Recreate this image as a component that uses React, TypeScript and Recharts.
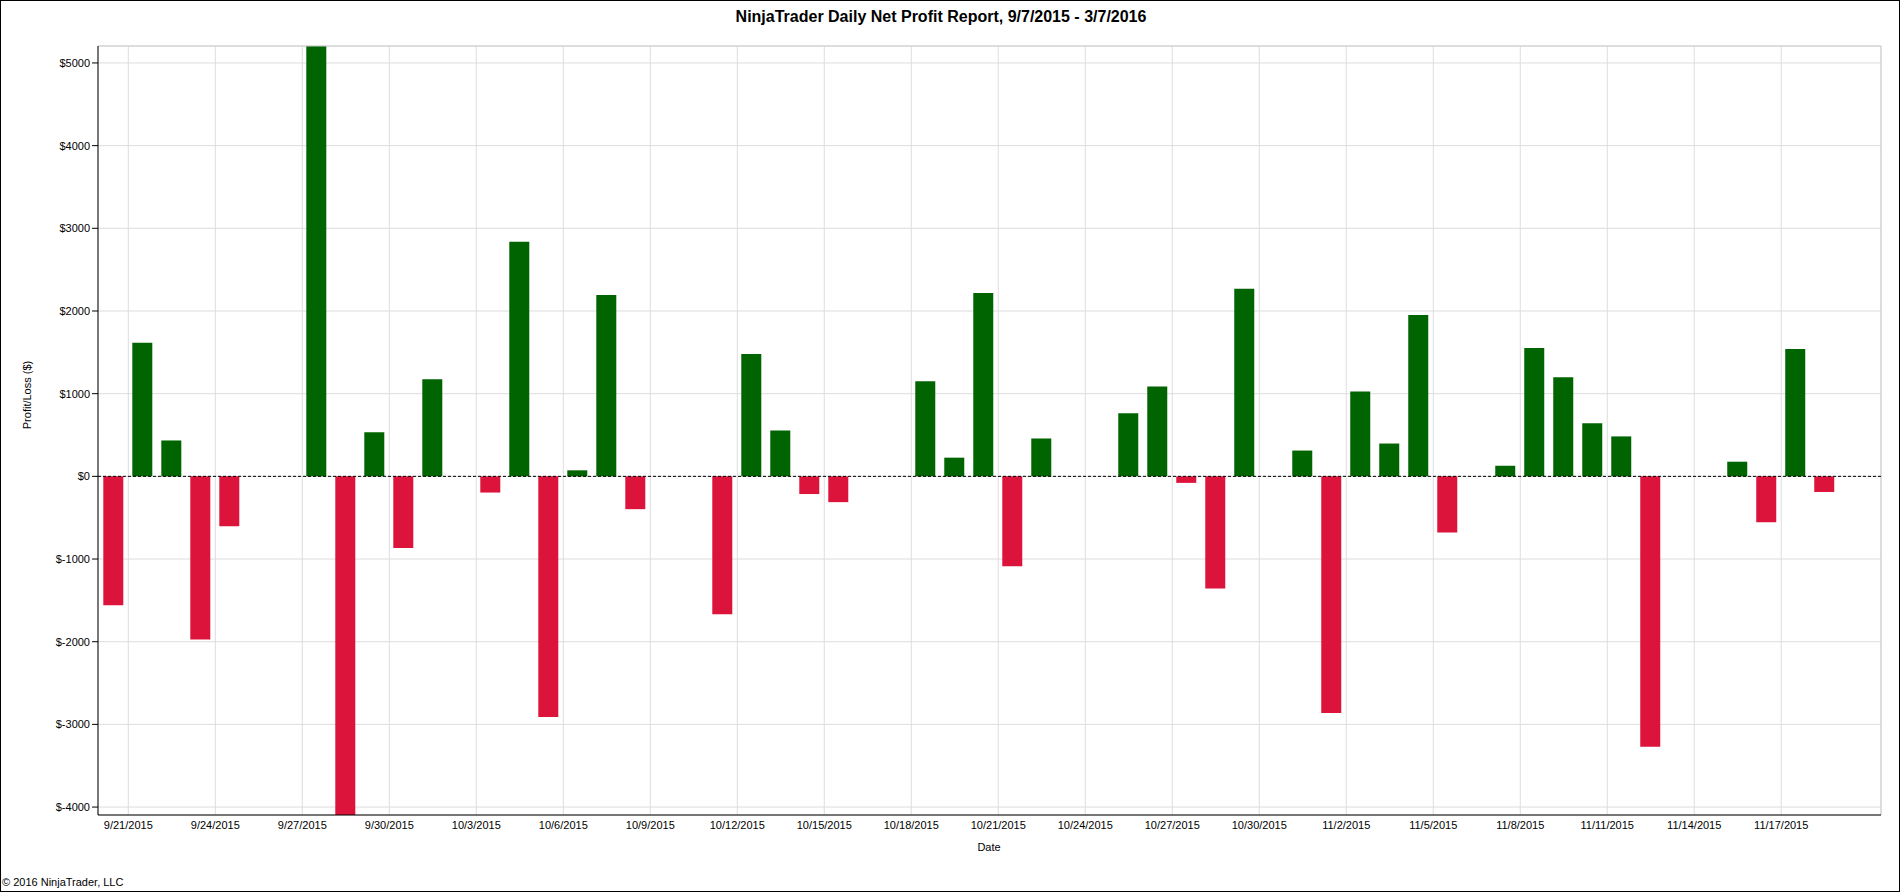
import React from 'react';
import { BarChart, Bar, XAxis, YAxis, CartesianGrid, ReferenceLine, Cell } from 'recharts';

const dates = [
  '9/20/2015', '9/21/2015', '9/22/2015', '9/23/2015', '9/24/2015',
  '9/27/2015', '9/28/2015', '9/29/2015', '9/30/2015', '10/1/2015',
  '10/3/2015', '10/4/2015', '10/5/2015', '10/6/2015', '10/7/2015', '10/8/2015',
  '10/11/2015', '10/12/2015', '10/13/2015', '10/14/2015', '10/15/2015',
  '10/18/2015', '10/19/2015', '10/20/2015', '10/21/2015', '10/22/2015',
  '10/25/2015', '10/26/2015', '10/27/2015', '10/28/2015', '10/29/2015',
  '10/31/2015', '11/1/2015', '11/2/2015', '11/3/2015', '11/4/2015', '11/5/2015',
  '11/7/2015', '11/8/2015', '11/9/2015', '11/10/2015', '11/11/2015', '11/12/2015',
  '11/15/2015', '11/16/2015', '11/17/2015', '11/18/2015',
];

const profits = [
  -1560, 1615, 434, -1974, -605,
  5205, -4096, 532, -868, 1174,
  -196, 2836, -2910, 73, 2194, -397,
  -1669, 1479, 556, -214, -312,
  1149, 226, 2219, -1088, 458,
  764, 1088, -79, -1357, 2268,
  312, -2861, 1027, 397, 1950, -678,
  128, 1553, 1198, 642, 483, -3270,
  177, -556, 1540, -189,
];

const yTicks = [-4000, -3000, -2000, -1000, 0, 1000, 2000, 3000, 4000, 5000];

const xTickDates = [
  '9/21/2015', '9/24/2015', '9/27/2015', '9/30/2015', '10/3/2015', '10/6/2015',
  '10/9/2015', '10/12/2015', '10/15/2015', '10/18/2015', '10/21/2015', '10/24/2015',
  '10/27/2015', '10/30/2015', '11/2/2015', '11/5/2015', '11/8/2015', '11/11/2015',
  '11/14/2015', '11/17/2015',
];

const GREEN = '#006400';
const RED = '#DC143C';
const DAY = 86400000;

const parseDate = (s: string) => {
  const [m, d, y] = s.split('/').map(Number);
  return Date.UTC(y, m - 1, d);
};
const fmtDate = (t: number) => {
  const d = new Date(t);
  return `${d.getUTCMonth() + 1}/${d.getUTCDate()}/${d.getUTCFullYear()}`;
};

const data = dates.map((d, i) => ({ t: parseDate(d) + DAY / 2, value: profits[i] }));
const xTicks = xTickDates.map(parseDate);
const origin = parseDate('9/21/2015');
const xDomain: [number, number] = [origin - 1.045 * DAY, origin + 60.44 * DAY];
const yMin = Math.min(...profits);
const yMax = Math.max(...profits);

const font = 'Arial, "Liberation Sans", sans-serif';

export default function App() {
  return (
    <div
      style={{
        position: 'absolute',
        left: 0,
        top: 0,
        width: 1900,
        height: 892,
        background: '#fff',
        fontFamily: font,
        color: '#000',
        overflow: 'hidden',
      }}
    >
      <div style={{ position: 'absolute', left: 0, top: 0 }}>
        <BarChart
          width={1900}
          height={892}
          data={data}
          margin={{ top: 46, right: 19, bottom: 47, left: 38 }}
          style={{ fontFamily: font }}
        >
          <CartesianGrid stroke="#dddddd" strokeWidth={1} />
          <XAxis
            dataKey="t"
            type="number"
            scale="linear"
            domain={xDomain}
            allowDataOverflow
            ticks={xTicks}
            interval={0}
            tickFormatter={fmtDate}
            tickLine={false}
            tickSize={4}
            axisLine={{ stroke: '#000', strokeWidth: 1 }}
            tick={{ fontSize: 11, fill: '#000', fontFamily: font }}
            height={30}
          />
          <YAxis
            type="number"
            domain={[yMin, yMax]}
            allowDataOverflow
            ticks={yTicks}
            interval={0}
            tickFormatter={(v: number) => `$${v}`}
            tickSize={6}
            tickMargin={2}
            tickLine={{ stroke: '#000' }}
            axisLine={{ stroke: '#000', strokeWidth: 1 }}
            tick={{ fontSize: 11, fill: '#000', fontFamily: font }}
            width={60}
          />
          <ReferenceLine y={yMax} stroke="#cccccc" ifOverflow="extendDomain" />
          <ReferenceLine x={xDomain[1]} stroke="#cccccc" ifOverflow="extendDomain" />
          <Bar dataKey="value" barSize={20} isAnimationActive={false}>
            {data.map((d, i) => (
              <Cell key={i} fill={d.value >= 0 ? GREEN : RED} />
            ))}
          </Bar>
          <ReferenceLine y={0} stroke="#000" strokeDasharray="3 2" />
        </BarChart>
      </div>
      <div
        style={{
          position: 'absolute',
          left: 0,
          top: 8,
          width: 1882,
          textAlign: 'center',
          fontSize: 16,
          fontWeight: 'bold',
          lineHeight: '18px',
        }}
      >
        NinjaTrader Daily Net Profit Report, 9/7/2015 - 3/7/2016
      </div>
      <div
        style={{
          position: 'absolute',
          left: 27,
          top: 395,
          transform: 'translate(-50%, -50%) rotate(-90deg)',
          fontSize: 11,
          whiteSpace: 'nowrap',
          lineHeight: '13px',
        }}
      >
        Profit/Loss ($)
      </div>
      <div
        style={{
          position: 'absolute',
          left: 889,
          width: 200,
          top: 841,
          textAlign: 'center',
          fontSize: 11,
          lineHeight: '13px',
        }}
      >
        Date
      </div>
      <div
        style={{
          position: 'absolute',
          left: 2,
          top: 876,
          fontSize: 11,
          lineHeight: '13px',
          whiteSpace: 'nowrap',
        }}
      >
        © 2016 NinjaTrader, LLC
      </div>
      <div
        style={{
          position: 'absolute',
          left: 0,
          top: 0,
          width: 1900,
          height: 892,
          boxSizing: 'border-box',
          border: '1px solid #000',
          pointerEvents: 'none',
        }}
      />
    </div>
  );
}
